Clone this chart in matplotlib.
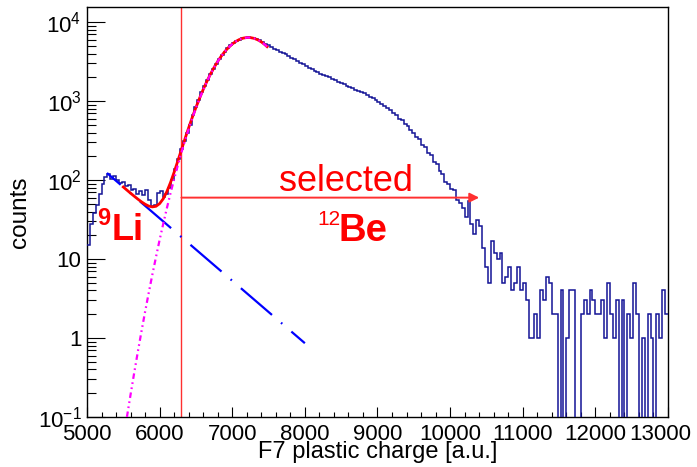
#Librerias para graficar el histograma de carga del plastico F7
import numpy as np
import matplotlib.pyplot as plt
from matplotlib.ticker import FuncFormatter, LogLocator, MultipleLocator
from matplotlib.transforms import ScaledTranslation

plt.rcParams['font.family'] = ['Liberation Sans', 'DejaVu Sans']
plt.rcParams['lines.scale_dashes'] = False

#Bordes de los bines (ancho 40 a.u.)
x_min = 5000
x_max = 13000
bin_width = 40

#Cuentas por bin (5000 -> 13000)
counts_li = [15, 28, 38, 48, 66, 88, 108, 120, 104, 112,
             100, 92, 96, 84, 86, 74, 78, 66, 72, 64,
             76, 56, 47, 48, 68, 72, 62, 66, 80, 100,
             138, 185, 250]
counts_peak = [310, 400, 500, 660, 840, 1040, 1290, 1560, 1850, 2200,
               2580, 2980, 3400, 3820, 4250, 4700, 5100, 5450, 5780, 6020,
               6230, 6350, 6400, 6380, 6300, 6100, 5900, 5600, 5350, 5100,
               4850, 4600, 4420, 4250, 4050, 3900, 3700, 3520, 3380, 3200,
               3080, 2950]
counts_shoulder = [2800, 2640, 2520, 2420, 2330, 2230, 2160, 2060, 2000, 1900,
                   1830, 1770, 1700, 1660, 1570, 1520, 1470, 1400, 1360, 1300,
                   1250, 1180, 1130, 1090, 1020, 980, 920, 870, 810, 770,
                   700, 670, 600, 570, 510, 480, 430, 400, 350, 330,
                   280, 260, 220, 205, 170, 160, 130, 118, 96, 90]
counts_fall = [78, 74, 56, 52, 44, 34, 55, 28, 21, 31,
               26, 14, 8, 5, 17, 12, 10, 12, 5, 6,
               8, 4, 5, 8, 4]
counts_tail = [5, 3, 1, 1, 2, 1, 4, 3, 6, 5,
               2, 2, 0, 4, 0, 1, 4, 4, 0, 0,
               2, 3, 2, 4, 3, 2, 2, 3, 1, 5,
               2, 1, 3, 0, 3, 0, 2, 1, 5, 2,
               0, 1, 0, 2, 1, 0, 2, 1, 4, 2]

#Ajuste total (rojo): fondo exponencial + gaussiana
fit_x = [5500, 5550, 5600, 5650, 5700, 5750, 5800, 5850, 5900, 5950,
         6000, 6050, 6100, 6150, 6200, 6250, 6300, 6350, 6400, 6450,
         6500, 6550, 6600, 6650, 6700, 6750, 6800, 6850, 6900, 6950,
         7000, 7050, 7100, 7150, 7200, 7250, 7300, 7350, 7400, 7450, 7480]
fit_total = [81.8, 74.7, 68.3, 62.6, 57.5, 53.1, 49.5, 46.9, 45.8, 46.6,
             50.4, 58.0, 71.6, 93.2, 126, 174, 242, 335, 460, 624,
             831, 1090, 1404, 1773, 2198, 2672, 3186, 3725, 4269, 4798,
             5287, 5712, 6049, 6281, 6394, 6380, 6243, 5988, 5631, 5190, 4898]
#Componente gaussiana del 12Be (magenta)
gaus_x = fit_x[1:]
fit_gaus = [0.1, 0.192, 0.362, 0.669, 1.21, 2.15, 3.73, 6.36, 10.6,
            17.5, 28.0, 44.2, 68.2, 103, 153, 223, 318, 444, 609,
            818, 1078, 1393, 1763, 2189, 2664, 3178, 3718, 4263, 4792,
            5282, 5707, 6045, 6277, 6390, 6377, 6240, 5985, 5628, 5188, 4896]
#Componente exponencial del 9Li (azul)
expo_x = [5275, 8000]
fit_expo = [123, 0.86]

#Corte de seleccion
cut_x = 6300
arrow_end = 10400
arrow_y = 60

counts = np.array(counts_li + counts_peak + counts_shoulder + counts_fall + counts_tail, dtype=float)
edges = np.arange(x_min, x_max + 1, bin_width)

fig = plt.figure(figsize=(6.97, 4.67), dpi=100)
ax = fig.add_axes([0.1248, 0.1071, 0.8336, 0.8785])
ax.set_yscale('log')
ax.set_xlim(x_min, x_max)
ax.set_ylim(0.1, 1.57e4)

#Histograma
ax.stairs(counts, edges, baseline=None, color='#141496', lw=1.1, zorder=3)

#Funciones de ajuste
ax.plot(expo_x, fit_expo, color='#0000ff', lw=1.6, linestyle=(16.5, (29.5, 8.6, 1.2, 8.6)), zorder=4)
ax.plot(fit_x, fit_total, color='#ff0000', lw=2.0, zorder=5)
ax.plot(gaus_x, fit_gaus, color='#ff00ff', lw=1.6, dashes=(4, 2.5, 1.2, 2.5, 1.2, 2.5), zorder=6)

#Linea de corte y flecha
ax.axvline(cut_x, color='#ff3030', lw=1.0, zorder=2)
ax.annotate('', xy=(arrow_end, arrow_y), xytext=(cut_x, arrow_y),
            arrowprops=dict(arrowstyle='-|>', color='#ff3030', lw=1.4,
                            mutation_scale=14, shrinkA=0, shrinkB=0), zorder=7)

#Textos
ax.text(8567, 72, 'selected', color='#ff0000', fontsize=26, ha='center', va='baseline')
ax.text(8170, 27, '12', color='#ff0000', fontsize=15, ha='left', va='baseline')
ax.text(8457, 16.7, 'Be', color='#ff0000', fontsize=27.5, fontweight='bold', ha='left', va='baseline')
ax.text(5135, 27, '9', color='#ff0000', fontsize=17, fontweight='bold', ha='left', va='baseline')
ax.text(5344, 17.5, 'Li', color='#ff0000', fontsize=26, fontweight='bold', ha='left', va='baseline')

#Ejes
def etiqueta(v, pos):
    e = int(round(np.log10(v)))
    if e == 0:
        return '1'
    if e == 1:
        return '10'
    return r'$\mathregular{10^{%d}}$' % e

ax.yaxis.set_major_locator(LogLocator(base=10, numticks=10))
ax.yaxis.set_minor_locator(LogLocator(base=10, subs=np.arange(2, 10), numticks=20))
ax.yaxis.set_major_formatter(FuncFormatter(etiqueta))
ax.yaxis.set_minor_formatter(FuncFormatter(lambda v, p: ''))
ax.set_xticks(np.arange(x_min, x_max + 1, 1000))
ax.xaxis.set_minor_locator(MultipleLocator(200))

ax.tick_params(axis='both', which='both', direction='in', top=False, right=False, width=0.8, labelsize=16)
ax.tick_params(axis='y', which='major', length=13, pad=4)
ax.tick_params(axis='y', which='minor', length=6.5)
ax.tick_params(axis='x', which='major', length=7.5, pad=5)
ax.tick_params(axis='x', which='minor', length=3.6)
for s in ax.spines.values():
    s.set_linewidth(1.0)

#La ultima etiqueta se corre a la izquierda para que no se corte
ultima = ax.xaxis.get_major_ticks()[-1].label1
ultima.set_transform(ultima.get_transform() + ScaledTranslation(-0.08, 0, fig.dpi_scale_trans))

ax.set_xlabel('F7 plastic charge [a.u.]', fontsize=17, labelpad=-2.5)
ax.set_ylabel('counts', fontsize=17.5, labelpad=5)

fig.savefig('out.png', dpi=100)
